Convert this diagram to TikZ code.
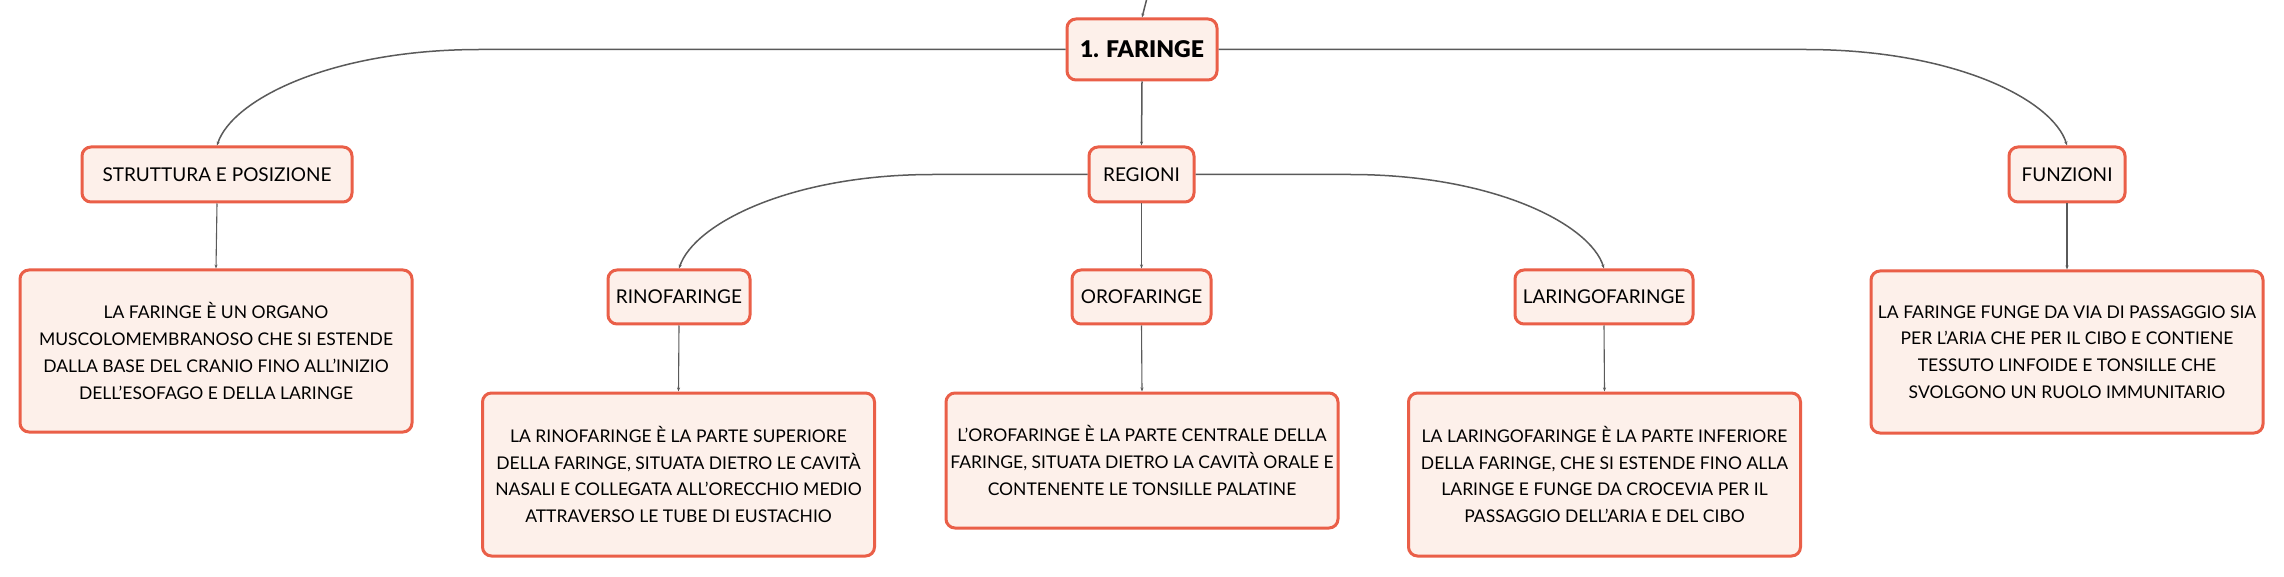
\documentclass[tikz,border=0pt]{standalone}
\usepackage{fontspec}
\setmainfont{Lato}
\newfontfamily\blackfont{Lato Black}
\usetikzlibrary{arrows.meta}
\definecolor{bord}{HTML}{EA5F48}
\definecolor{boxfill}{HTML}{FDF0EA}
\definecolor{conncol}{HTML}{5A5A5A}
\tikzset{
  box/.style={draw=bord, fill=boxfill, line width=3pt, rounded corners=9pt,
    inner sep=0pt, align=center, text=black},
  topic/.style={box, minimum height=55pt, font=\fontsize{19}{23}\selectfont},
  rootbox/.style={box, minimum height=61pt, minimum width=150pt, font=\fontsize{23}{27}\blackfont},
  textbox/.style={box, minimum width=392pt, font=\fontsize{17.5}{26.7}\selectfont},
  conn/.style={draw=conncol, line width=1.5pt, -{Stealth[length=4pt,width=3pt]}},
  thinconn/.style={conn, line width=1.1pt}
}
\begin{document}
\begin{tikzpicture}[x=1pt,y=-1pt]
\useasboundingbox[fill=white] (0,0) rectangle (2284,577);
% nodes
\node[rootbox] (faringe) at (1142,49.5) {1. FARINGE};
\coordinate (parent) at (1147,-2);
\node[topic, minimum width=270pt] (struttura) at (217,174.5) {STRUTTURA E POSIZIONE};
\node[topic, minimum width=105pt] (regioni) at (1141.5,174.5) {REGIONI};
\node[topic, minimum width=116pt] (funzioni) at (2067,174.5) {FUNZIONI};
\node[topic, minimum width=142pt, minimum height=54pt] (rino) at (679,297) {RINOFARINGE};
\node[topic, minimum width=139pt, minimum height=54pt] (oro) at (1141.5,297) {OROFARINGE};
\node[topic, minimum width=178pt, minimum height=54pt] (laringo) at (1604,297) {LARINGOFARINGE};
\node[textbox, minimum height=162pt] (strtext) at (216,351) {LA FARINGE È UN ORGANO\\MUSCOLOMEMBRANOSO CHE SI ESTENDE\\DALLA BASE DEL CRANIO FINO ALL'INIZIO\\DELL'ESOFAGO E DELLA LARINGE};
\node[textbox, minimum height=163pt] (rinotext) at (678.5,474.5) {LA RINOFARINGE È LA PARTE SUPERIORE\\DELLA FARINGE, SITUATA DIETRO LE CAVITÀ\\NASALI E COLLEGATA ALL'ORECCHIO MEDIO\\ATTRAVERSO LE TUBE DI EUSTACHIO};
\node[textbox, minimum height=135pt] (orotext) at (1142,460.5) {L'OROFARINGE È LA PARTE CENTRALE DELLA\\FARINGE, SITUATA DIETRO LA CAVITÀ ORALE E\\CONTENENTE LE TONSILLE PALATINE};
\node[textbox, minimum height=163pt] (larintext) at (1604.5,474.5) {LA LARINGOFARINGE È LA PARTE INFERIORE\\DELLA FARINGE, CHE SI ESTENDE FINO ALLA\\LARINGE E FUNGE DA CROCEVIA PER IL\\PASSAGGIO DELL'ARIA E DEL CIBO};
\node[textbox, minimum height=162pt] (funztext) at (2067,352) {LA FARINGE FUNGE DA VIA DI PASSAGGIO SIA\\PER L'ARIA CHE PER IL CIBO E CONTIENE\\TESSUTO LINFOIDE E TONSILLE CHE\\SVOLGONO UN RUOLO IMMUNITARIO};
% connectors
\draw[conn] (parent) -- (faringe.north);
\draw[conn] (faringe.west) -- (480,49.5) .. controls (330,49.5) and (232,100) .. (struttura.north);
\draw[conn] (faringe.east) -- (1805,49.5) .. controls (1955,49.5) and (2053,100) .. (funzioni.north);
\draw[conn] (faringe.south) -- (regioni.north);
\draw[conn] (regioni.west) -- (933,174.5) .. controls (790,174.5) and (694,224) .. (rino.north);
\draw[conn] (regioni.east) -- (1350,174.5) .. controls (1493,174.5) and (1590,224) .. (laringo.north);
\draw[conn] (regioni.south) -- (oro.north);
\draw[thinconn] (struttura.south) -- (strtext.north);
\draw[thinconn] (funzioni.south) -- (funztext.north);
\draw[thinconn] (rino.south) -- (rinotext.north);
\draw[thinconn] (oro.south) -- (orotext.north);
\draw[thinconn] (laringo.south) -- (larintext.north);
\end{tikzpicture}
\end{document}
